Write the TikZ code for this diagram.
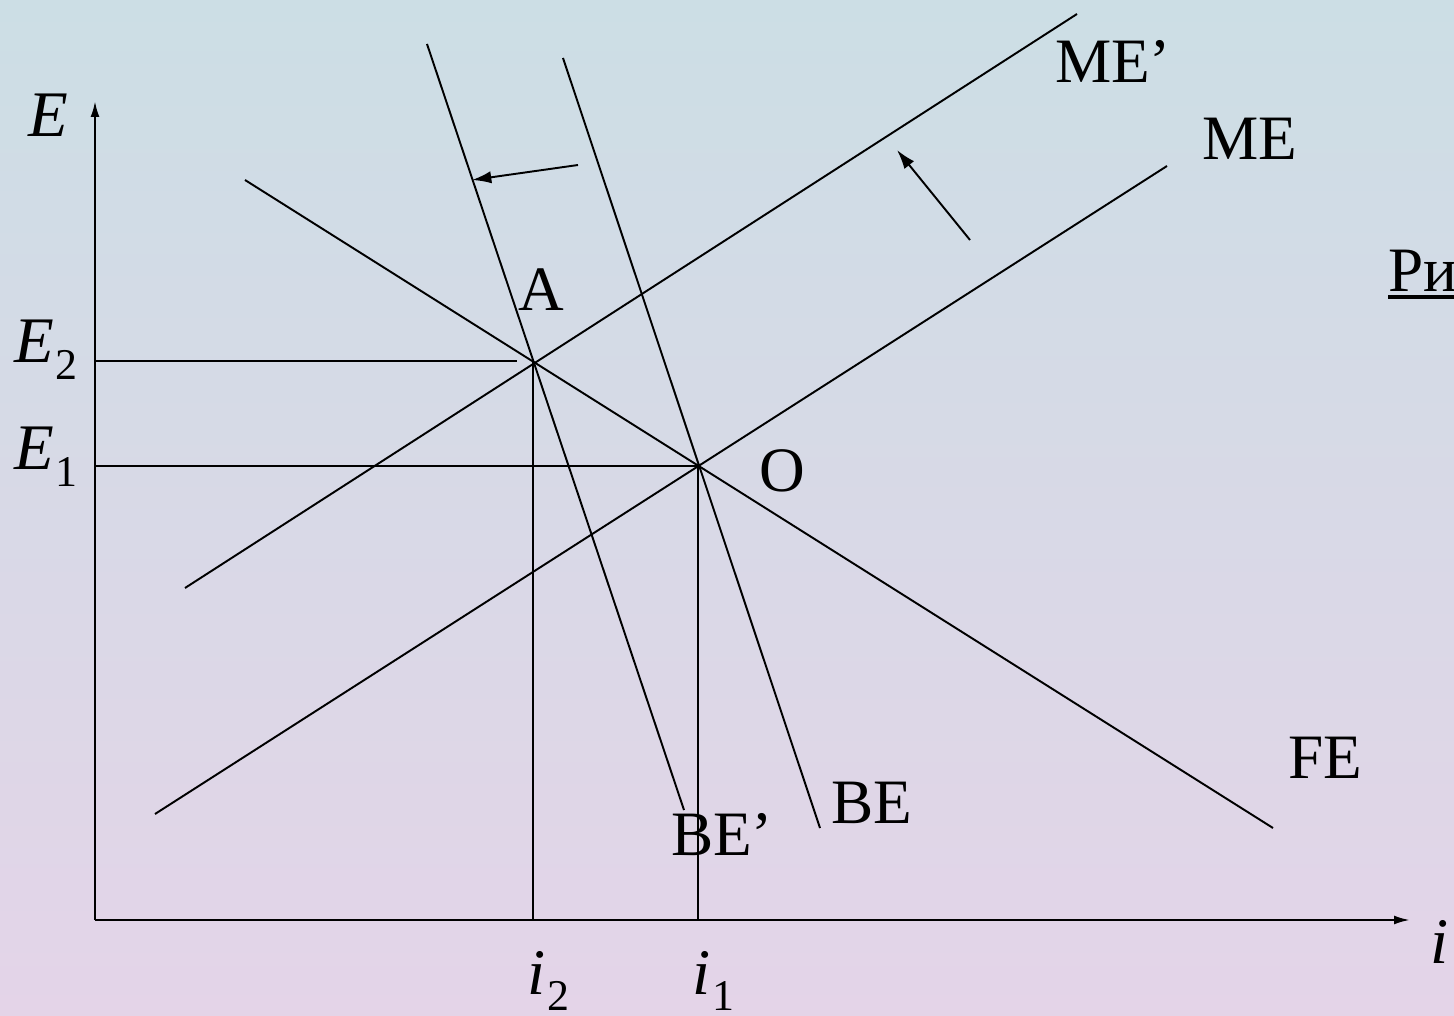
\documentclass[tikz,border=0pt]{standalone}
\usepackage{fontspec}
\setmainfont{Liberation Serif}
\usetikzlibrary{arrows.meta}
\newcommand{\mysub}[1]{\textup{\kern1pt\raisebox{-0.55ex}{\fontsize{25}{28}\selectfont #1}}}
\begin{document}
\begin{tikzpicture}[x=0.02cm,y=-0.02cm,
  ln/.style={line width=1.1pt,black},
  ax/.style={line width=1.3pt,black,-{Latex[length=9pt,width=5pt]}},
  sh/.style={line width=1.1pt,black,-{Latex[length=11pt,width=7pt]}},
  lbl/.style={inner sep=0pt,font=\fontsize{36}{42}\selectfont},
  mlbl/.style={inner sep=0pt,font=\fontsize{37}{44}\selectfont\itshape}]
\fill[top color={rgb,255:red,204;green,222;blue,229},bottom color={rgb,255:red,228;green,212;blue,232}] (0,0) rectangle (1454,1016);
\useasboundingbox (0,0) rectangle (1454,1016);
% coordinates
\coordinate (Or) at (95,920);
\coordinate (Ytop) at (95,101);
\coordinate (Xend) at (1410,920);
\coordinate (A) at (533,361);
\coordinate (O) at (698,466);
\coordinate (E2l) at (95,361);
\coordinate (E2r) at (517,361);
\coordinate (E1l) at (95,466);
\coordinate (i2b) at (533,920);
\coordinate (i1b) at (698,920);
\coordinate (FEa) at (245,180);
\coordinate (FEb) at (1273,828);
\coordinate (MEa) at (155,814);
\coordinate (MEb) at (1167,166);
\coordinate (MPa) at (185,588);
\coordinate (MPb) at (1077,14);
\coordinate (BEa) at (563,58);
\coordinate (BEb) at (820,828);
\coordinate (BPa) at (427,44);
\coordinate (BPb) at (684,810);
\coordinate (s1a) at (578,165);
\coordinate (s1b) at (472,180);
\coordinate (s2a) at (970,240);
\coordinate (s2b) at (897,150);
% axes
\draw[ax] (Or) -- (Ytop);
\draw[ax] (Or) -- (Xend);
% guide lines
\draw[ln] (E2l) -- (E2r);
\draw[ln] (E1l) -- (O);
\draw[ln] (A) -- (i2b);
\draw[ln] (O) -- (i1b);
% curves
\draw[ln] (FEa) -- (FEb);
\draw[ln] (MEa) -- (MEb);
\draw[ln] (MPa) -- (MPb);
\draw[ln] (BEa) -- (BEb);
\draw[ln] (BPa) -- (BPb);
% shift arrows
\draw[sh] (s1a) -- (s1b);
\draw[sh] (s2a) -- (s2b);
% labels
\node[mlbl] (lE) at (48,115) {E};
\node[mlbl,anchor=base west] (lE2) at (14,363) {E\mysub{2}};
\node[mlbl,anchor=base west] (lE1) at (14,470) {E\mysub{1}};
\node[mlbl] (li) at (1440,942) {i};
\node[mlbl,anchor=base west] (li2) at (527,994) {i\mysub{2}};
\node[mlbl,anchor=base west] (li1) at (692,994) {i\mysub{1}};
\node[lbl,anchor=base] (lA) at (541,311) {A};
\node[lbl,anchor=base] (lO) at (782,492) {O};
\node[lbl,anchor=base] (lMP) at (1113,83) {ME’};
\node[lbl,anchor=base] (lME) at (1250,160) {ME};
\node[lbl,anchor=base] (lFE) at (1325,778) {FE};
\node[lbl,anchor=base] (lBE) at (872,823) {BE};
\node[lbl,anchor=base] (lBP) at (722,855) {BE’};
\node[lbl,anchor=base west] (lR) at (1388,292) {Ри};
\draw[line width=1.8pt] (1388,297) -- (1454,297);
\end{tikzpicture}
\end{document}
